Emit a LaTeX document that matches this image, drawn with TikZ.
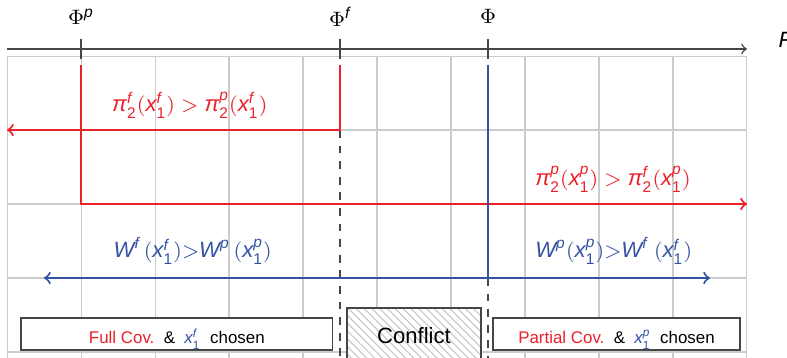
\documentclass[tikz,border=0pt]{standalone}
\usepackage{amsmath}
\usepackage{fontspec}
\setmainfont{Liberation Sans}
\usetikzlibrary{patterns}
\definecolor{redline}{RGB}{235,32,40}
\definecolor{blueline}{RGB}{52,82,165}
\definecolor{axisgray}{RGB}{70,70,70}
\newcommand{\mv}[1]{\textit{#1}}
\newcommand{\xone}[1]{\mv{x}_{\text{1}}^{\mv{#1}}}
\newcommand{\pitwo}[1]{\mv{π}_{\text{2}}^{\mv{#1}}}
\tikzset{
  gridline/.style={gray!40, line width=0.4pt},
  redarrow/.style={redline, line width=0.8pt},
  bluearrow/.style={blueline, line width=0.8pt},
  cutline/.style={axisgray, dashed, line width=0.5pt},
  choicebox/.style={draw=axisgray, fill=white, line width=0.5pt, minimum height=0.43cm, inner sep=0pt, text height=8pt, text depth=0.4pt, font=\fontsize{6.5}{8}\selectfont},
  lbl/.style={font=\fontsize{8.5}{10}\selectfont},
}
\begin{document}
\begin{tikzpicture}
\useasboundingbox (-0.095,-0.081) rectangle (10.541,4.757);
\draw[gridline] (0,-0.2) grid (10,4); %grid
% axis and thresholds
\draw[->, axisgray, line width=0.6pt] (0,4.095) -- (10,4.095);
\node[lbl, anchor=west, inner sep=0pt] (F) at (10.42,4.22) {\mv{F}};
\foreach \x/\nm/\tx in {1/phip/{\Phi^{\mv{p}}}, 4.5/phif/{\Phi^{\mv{f}}}, 6.5/phi/{\Phi}}{
  \draw[axisgray, line width=0.5pt] (\x,3.96) -- (\x,4.23);
  \node[font=\fontsize{8}{10}\selectfont] (\nm) at (\x,4.53) {$\tx$};
}
% dashed cuts
\coordinate (cutf) at (4.5,3);
\coordinate (cut) at (6.5,1);
\draw[cutline] (cutf) -- (4.5,-0.2);
\draw[cutline] (cut) -- (6.5,-0.2);
% red: profits
\coordinate (topf) at (4.5,3.88);
\coordinate (topp) at (1,3.88);
\coordinate (left) at (0,3);
\coordinate (cornp) at (1,2);
\coordinate (right) at (10,2);
\draw[redarrow, ->] (topf) -- (cutf) -- (left);
\draw[redarrow, ->] (topp) -- (cornp) -- (right);
\node[lbl, redline] (pif) at (2.47,3.33) {$\pitwo{f}(\xone{f}) > \pitwo{p}(\xone{f})$};
\node[lbl, redline] (pip) at (8.19,2.33) {$\pitwo{p}(\xone{p}) > \pitwo{f}(\xone{p})$};
% blue: welfare
\coordinate (top) at (6.5,3.88);
\coordinate (wl) at (0.5,1);
\coordinate (wr) at (9.5,1);
\draw[bluearrow] (top) -- (cut);
\draw[bluearrow, <->] (wl) -- (wr);
\node[lbl, blueline] (wf) at (2.51,1.36) {$\mv{W}^{\mv{f}}\,(\xone{f}){>}\mv{W}^{\mv{p}}\,(\xone{p})$};
\node[lbl, blueline] (wp) at (8.2,1.36) {$\mv{W}^{\mv{p}}(\xone{p}){>}\mv{W}^{\mv{f}}\ (\xone{f})$};
% outcomes
\node[choicebox, minimum width=4.21cm] (full) at (2.295,0.243) {\textcolor{redline}{Full Cov.}\ \ \&\ \ \textcolor{blueline}{$\xone{f}$}\ \ chosen};
\node[draw=axisgray, line width=0.5pt, preaction={fill=white}, pattern=north west lines, pattern color=gray!45, minimum width=1.81cm, minimum height=0.76cm, inner sep=0pt, font=\fontsize{8.5}{10}\selectfont] (conf) at (5.5,0.216) {Conflict};
\node[choicebox, minimum width=3.337cm] (part) at (8.237,0.243) {\textcolor{redline}{Partial Cov.}\ \ \&\ \ \textcolor{blueline}{$\xone{p}$}\ \ chosen};
\end{tikzpicture}
\end{document}
